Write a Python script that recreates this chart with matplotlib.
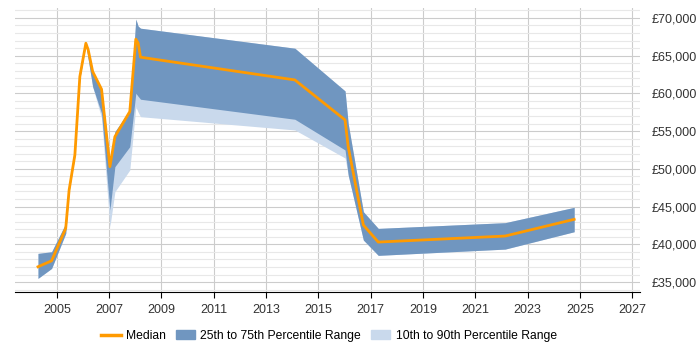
import matplotlib.pyplot as plt
from matplotlib.ticker import MultipleLocator, FuncFormatter
from matplotlib.patches import Patch
from matplotlib.lines import Line2D

plt.rcParams["font.family"] = ["Liberation Sans", "DejaVu Sans"]

# values
years = [2004.28, 2004.80, 2005.34, 2005.47, 2005.69, 2005.88, 2006.11, 2006.20,
         2006.37, 2006.71, 2007.03, 2007.22, 2007.79, 2008.02, 2008.11, 2008.20,
         2014.10, 2016.02, 2016.14, 2016.72, 2017.29, 2022.14, 2024.78]
median = [37030, 37820, 42120, 47200, 51840, 62220, 66640, 65760,
          62890, 60540, 50290, 54260, 57590, 67180, 66640, 64790,
          61780, 56480, 52940, 42560, 40300, 41100, 43310]
p75 = [38800, 39020, 42780, 47400, 52000, 62400, 66800, 65900,
       63000, 60700, 50950, 54930, 57800, 69830, 68900, 68630,
       65980, 60320, 56000, 44320, 42110, 42870, 44900]
p25 = [35490, 36810, 41450, 47000, 51700, 62000, 66500, 64500,
       60890, 57370, 44550, 50290, 52940, 60010, 59600, 59220,
       56570, 52500, 49190, 40570, 38540, 39370, 41670]
p90 = p75
p10 = [35490, 36810, 41450, 47000, 51700, 62000, 66500, 64500,
       60890, 56740, 42330, 46970, 49850, 58240, 57500, 56910,
       55150, 51440, 49190, 40570, 38540, 39370, 41670]

dark = "#7096c0"
light = "#c9d9ec"
orange = "#ff9a00"

fig = plt.figure(figsize=(7, 3.5), dpi=100)
ax = fig.add_axes([0.0214, 0.166, 0.893, 0.811])

ax.fill_between(years, p10, p90, color=light, lw=0, zorder=2)
ax.fill_between(years, p25, p75, color=dark, lw=0, zorder=3)
ax.plot(years, median, color=orange, lw=2, zorder=4)

ax.set_xlim(2003.4, 2027.3)
ax.set_ylim(33700, 71300)
ax.set_xticks(range(2005, 2028, 2))
ax.yaxis.set_major_locator(MultipleLocator(5000))
ax.yaxis.set_minor_locator(MultipleLocator(1000))
ax.yaxis.set_major_formatter(FuncFormatter(lambda v, p: f"£{int(v):,}"))
ax.yaxis.tick_right()

ax.grid(axis="y", which="major", color="#cccccc", lw=0.8, zorder=0)
ax.grid(axis="y", which="minor", color="#e8e8e8", lw=0.8, zorder=0)
ax.grid(axis="x", which="major", color="#cccccc", lw=0.8, zorder=0)
ax.set_axisbelow(True)

for s in ["top", "left", "right"]:
    ax.spines[s].set_visible(False)
ax.spines["bottom"].set_color("black")
ax.tick_params(axis="y", which="both", length=0, labelsize=9, colors="#333333", pad=8)
ax.tick_params(axis="x", length=4, labelsize=9, colors="#333333", pad=5)
ax.tick_params(axis="x", color="black")

handles = [Line2D([0], [0], color=orange, lw=2.5),
           Patch(color=dark), Patch(color=light)]
labels = ["Median", "25th to 75th Percentile Range", "10th to 90th Percentile Range"]
fig.legend(handles, labels, loc="lower center", ncol=3, frameon=False,
           fontsize=8.7, bbox_to_anchor=(0.47, -0.008), handlelength=1.6,
           columnspacing=0.8, handletextpad=0.45)

plt.savefig("out.png")
